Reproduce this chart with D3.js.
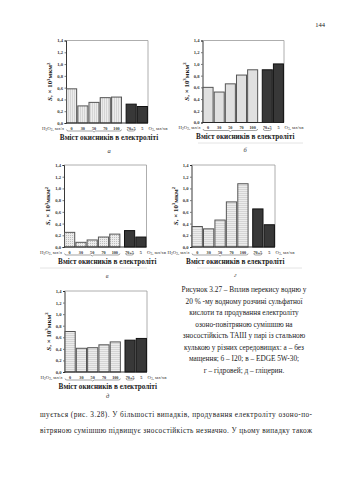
<!DOCTYPE html>
<html><head><meta charset="utf-8">
<script src="https://cdn.jsdelivr.net/npm/d3@7"></script>
<style>html,body{margin:0;padding:0;background:#fff;}svg{display:block;}</style>
</head><body>
<script>
// ---------- data ----------
const categories = ["0", "30", "50", "70", "100", "70+5", "5"];
const barKind = ["h2o2", "h2o2", "h2o2", "h2o2", "h2o2", "o3", "o3"];
const seriesA = [0.58, 0.29, 0.35, 0.43, 0.44, 0.32, 0.28];
const seriesB = [0.60, 0.52, 0.66, 0.81, 0.90, 0.90, 1.00];
const seriesV = [0.25, 0.08, 0.12, 0.17, 0.22, 0.28, 0.17];
const seriesG = [0.35, 0.31, 0.46, 0.77, 1.08, 0.65, 0.38];
const seriesD = [0.70, 0.41, 0.42, 0.47, 0.52, 0.55, 0.58];
const yTickValues = [0, 0.2, 0.4, 0.6, 0.8, 1.0, 1.2, 1.4];
const yTickLabels = ["0,0", "0,2", "0,4", "0,6", "0,8", "1,0", "1,2", "1,4"];
const panelLetters = ["а", "б", "в", "г", "д"];
const xTitle = "Вміст окисників в електроліті";
const pageNumber = "144";
const captionLines = [
  "Рисунок 3.27 – Вплив перекису водню у",
  "20 % -му водному розчині сульфатної",
  "кислоти та продування електроліту",
  "озоно-повітряною сумішшю на",
  "зносостійкість ТАШ у парі із стальною",
  "кулькою у різних середовищах: а – без",
  "мащення; б – І20; в – EDGE 5W-30;",
  "г – гідровей; д – гліцерин."
];
const bodyLines = [
  "шується (рис. 3.28). У більшості випадків, продування електроліту озоно-по-",
  "вітряною сумішшю підвищує зносостійкість  незначно. У цьому випадку також"
];

// ---------- layout ----------
const W = 339, H = 480;
const serif = "'Liberation Serif','Times New Roman',serif";
const panels = [
  {values: seriesA, letter: panelLetters[0], x: 66,    y: 40.5, w: 82,   h: 82.5, ly: 153},
  {values: seriesB, letter: panelLetters[1], x: 202.5, y: 40.5, w: 81.5, h: 82,   ly: 152},
  {values: seriesV, letter: panelLetters[2], x: 64,    y: 165,  w: 82.5, h: 82,   ly: 278},
  {values: seriesG, letter: panelLetters[3], x: 191.5, y: 165,  w: 83.5, h: 82,   ly: 277},
  {values: seriesD, letter: panelLetters[4], x: 64.5,  y: 291,  w: 82.5, h: 81,   ly: 398}
];

const svg = d3.select("body").append("svg").attr("width", W).attr("height", H)
  .style("font-family", serif);
svg.append("rect").attr("width", W).attr("height", H).attr("fill", "#fff");

const defs = svg.append("defs");
const pat = defs.append("pattern").attr("id", "hatch").attr("patternUnits", "userSpaceOnUse")
  .attr("width", 2).attr("height", 2);
pat.append("rect").attr("width", 2).attr("height", 2).attr("fill", "#ececec");
pat.append("rect").attr("x", 0).attr("y", 0).attr("width", 1).attr("height", 1).attr("fill", "#bdbdbd");

// page number
svg.append("text").attr("x", 320).attr("y", 27).attr("text-anchor", "middle")
  .attr("font-size", 6.5).attr("fill", "#222").text(pageNumber);

const gapExtra = 3.5;
panels.forEach(p => {
  const g = svg.append("g").attr("transform", `translate(${p.x},${p.y})`);
  const y = d3.scaleLinear().domain([0, 1.4]).range([p.h, 0]);
  const x = d3.scaleBand().domain(categories).range([0, p.w - gapExtra])
    .paddingInner(0.1).paddingOuter(0.05);
  const xPos = (c, i) => x(c) + (barKind[i] === "o3" ? gapExtra : 0);

  // box (top/right gray)
  g.append("line").attr("x1", 0).attr("x2", p.w).attr("y1", 0).attr("y2", 0)
    .attr("stroke", "#999").attr("stroke-width", 0.8);
  g.append("line").attr("x1", p.w).attr("x2", p.w).attr("y1", 0).attr("y2", p.h)
    .attr("stroke", "#999").attr("stroke-width", 0.8);

  // y axis
  const ya = g.append("g").call(d3.axisLeft(y).tickValues(yTickValues)
    .tickFormat((d, i) => yTickLabels[i]).tickSize(1.5).tickPadding(1.5));
  ya.select(".domain").attr("stroke", "#222").attr("stroke-width", 0.9);
  ya.selectAll(".tick line").attr("stroke", "#222").attr("stroke-width", 0.6);
  ya.selectAll("text").attr("font-size", 4.6).attr("font-family", serif)
    .attr("font-weight", "bold").attr("fill", "#333");

  // bars
  g.selectAll("rect.bar").data(p.values).join("rect").attr("class", "bar")
    .attr("x", (d, i) => xPos(categories[i], i))
    .attr("width", x.bandwidth())
    .attr("y", d => y(d))
    .attr("height", d => y(0) - y(d))
    .attr("fill", (d, i) => barKind[i] === "o3" ? "#383838" : "url(#hatch)")
    .attr("stroke", (d, i) => barKind[i] === "o3" ? "#111" : "#555")
    .attr("stroke-width", 1);

  // bottom axis line
  g.append("line").attr("x1", 0).attr("x2", p.w).attr("y1", p.h).attr("y2", p.h)
    .attr("stroke", "#222").attr("stroke-width", 0.9);

  // category labels
  g.selectAll("text.cat").data(categories).join("text").attr("class", "cat")
    .attr("x", (c, i) => xPos(c, i) + x.bandwidth() / 2)
    .attr("y", p.h + 6.5).attr("text-anchor", "middle")
    .attr("font-size", 4.2).attr("font-weight", "bold").attr("fill", "#333").text(c => c);

  // H2O2 label
  const hl = g.append("text").attr("x", -2).attr("y", p.h + 6.5).attr("text-anchor", "end")
    .attr("font-size", 4.8).attr("fill", "#333");
  hl.append("tspan").text("H");
  hl.append("tspan").attr("font-size", 3.4).attr("dy", 1).text("2");
  hl.append("tspan").attr("dy", -1).text("O");
  hl.append("tspan").attr("font-size", 3.4).attr("dy", 1).text("2");
  hl.append("tspan").attr("dy", -1).text(", мл/л");

  // O3 label
  const ol = g.append("text").attr("x", p.w + 0.5).attr("y", p.h + 6.5).attr("text-anchor", "start")
    .attr("font-size", 4.8).attr("fill", "#333");
  ol.append("tspan").text("O");
  ol.append("tspan").attr("font-size", 3.4).attr("dy", 1).text("3");
  ol.append("tspan").attr("dy", -1).text(", мл/хв");

  // braces
  const b0 = xPos(categories[0], 0), b1 = xPos(categories[4], 4) + x.bandwidth();
  const by = p.h + 8;
  g.append("path").attr("d", `M${b0},${by - 1.5} Q${b0},${by} ${b0 + 2},${by} L${(b0 + b1) / 2 - 1.5},${by} L${(b0 + b1) / 2},${by + 1} L${(b0 + b1) / 2 + 1.5},${by} L${b1 - 2},${by} Q${b1},${by} ${b1},${by - 1.5}`)
    .attr("fill", "none").attr("stroke", "#444").attr("stroke-width", 0.5);
  const c0 = xPos(categories[5], 5) + 1, c1 = xPos(categories[5], 5) + x.bandwidth() - 1;
  g.append("path").attr("d", `M${c0},${by - 1.5} Q${c0},${by} ${c0 + 2},${by} L${c1 - 2},${by} Q${c1},${by} ${c1},${by - 1.5}`)
    .attr("fill", "none").attr("stroke", "#444").attr("stroke-width", 0.5);

  // y label
  const yl = g.append("text").attr("transform", `translate(${-14},${p.h / 2}) rotate(-90)`)
    .attr("text-anchor", "middle").attr("font-size", 7).attr("font-weight", "bold").attr("fill", "#222");
  yl.append("tspan").attr("font-style", "italic").text("S");
  yl.append("tspan").text(", × 10");
  yl.append("tspan").attr("font-size", 4.8).attr("dy", -2.5).text("3");
  yl.append("tspan").attr("dy", 2.5).text("мкм");
  yl.append("tspan").attr("font-size", 4.8).attr("dy", -2.5).text("2");

  // x title
  g.append("text").attr("x", p.w / 2 + 2).attr("y", p.h + 16.5).attr("text-anchor", "middle")
    .attr("font-size", 7.2).attr("font-weight", "bold").attr("fill", "#222").text(xTitle);

  // panel letter
  svg.append("text").attr("x", p.x + p.w / 2 + 2).attr("y", p.ly).attr("text-anchor", "middle")
    .attr("font-size", 6.5).attr("font-style", "italic").attr("fill", "#333").text(p.letter);
});

// faint scan lines
[[198, 303, 143], [40, 147, 268], [197, 302, 268]].forEach(l => {
  svg.append("line").attr("x1", l[0]).attr("x2", l[1]).attr("y1", l[2]).attr("y2", l[2])
    .attr("stroke", "#ddd").attr("stroke-width", 0.8);
});

// caption
svg.selectAll("text.cap").data(captionLines).join("text").attr("class", "cap")
  .attr("x", 244).attr("y", (d, i) => 292 + i * 11.5).attr("text-anchor", "middle")
  .attr("font-size", 7.3).attr("fill", "#222").text(d => d);

// body
svg.selectAll("text.body").data(bodyLines).join("text").attr("class", "body")
  .attr("x", 40).attr("y", (d, i) => 417 + i * 16)
  .attr("textLength", 272).attr("lengthAdjust", "spacing")
  .attr("font-size", 7.3).attr("fill", "#222").text(d => d);
</script>
</body></html>
